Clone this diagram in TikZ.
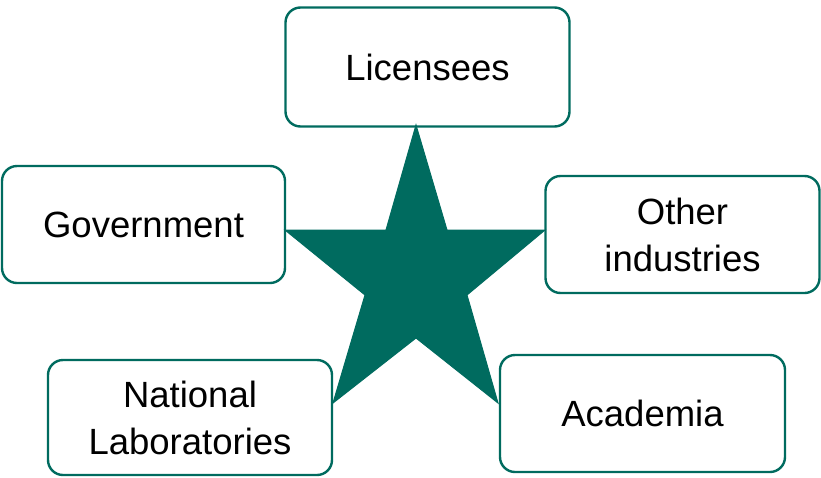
\documentclass[tikz,border=0pt]{standalone}
\usepackage{fontspec}
\setmainfont{Liberation Sans}
\usepackage{tikz}
\definecolor{starteal}{HTML}{006B5F}

\begin{document}
\begin{tikzpicture}[
  x=1pt, y=-1pt,
  party/.style={draw=starteal, line width=2.4pt, fill=white, rounded corners=15pt,
    align=center, font=\fontsize{36.5}{47}\selectfont, text=black},
  star/.style={fill=starteal, draw=starteal, line width=1pt, line join=miter}
]
  \useasboundingbox (0,0) rectangle (821,477);

  \node[party, minimum width=284pt, minimum height=119pt] (lic)  at (427.5,67)  {Licensees};
  \node[party, minimum width=283pt, minimum height=117pt] (gov)  at (143.5,224.5) {Government};
  \node[party, minimum width=274pt, minimum height=117pt] (ind)  at (682.5,234.5) {Other\\industries};
  \node[party, minimum width=284pt, minimum height=115pt] (labs) at (190,417.5) {National\\Laboratories};
  \node[party, minimum width=285pt, minimum height=117pt] (acad) at (642.5,413.5) {Academia};

  % five-pointed star in the middle
  \coordinate (tTop)   at (416,125);
  \coordinate (tRight) at (545,230);
  \coordinate (tBR)    at (498,403);
  \coordinate (tBL)    at (333,403);
  \coordinate (tLeft)  at (285,230);
  \draw[star] (tTop) -- (447,230) -- (tRight) -- (467,295) -- (tBR)
    -- (416,338) -- (tBL) -- (365,295) -- (tLeft) -- (386,230) -- cycle;
\end{tikzpicture}
\end{document}
